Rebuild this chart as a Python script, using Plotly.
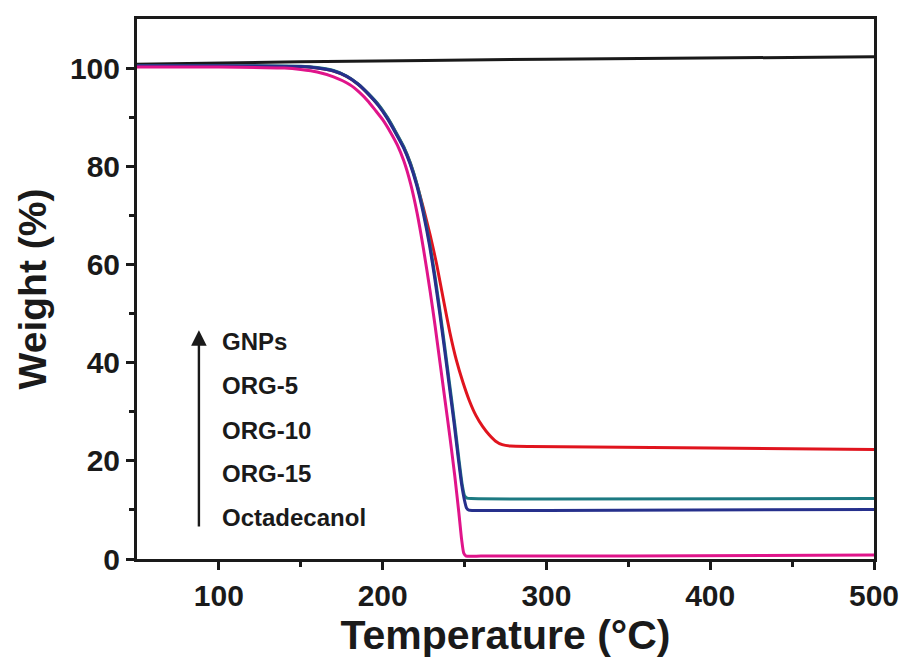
import plotly.graph_objects as go

# GNPs
gnps_T = [50, 150, 300, 500]
gnps_W = [100.8, 101.3, 101.8, 102.3]

# ORG-5 (red)
org5_T = [50, 100, 150, 160, 170, 178, 185, 191, 197.6, 203, 208, 213, 217, 221, 225, 229, 233, 237, 241, 245, 249, 253, 257, 261, 265, 269, 273, 278, 290, 400, 500]
org5_W = [100.4, 100.4, 100.3, 100.0, 99.4, 98.3, 96.7, 94.8, 92.4, 89.8, 86.9, 83.8, 80.5, 76.2, 71.3, 66.0, 60.0, 53.0, 46.2, 40.5, 36.0, 32.2, 29.2, 27.0, 25.3, 24.0, 23.3, 23.0, 22.9, 22.6, 22.3]

# ORG-10 (teal)
org10_T = [50, 100, 150, 160, 170, 178, 185, 191, 197.6, 203, 208, 213, 217, 221, 225, 229, 232, 235, 238, 241, 244, 246.5, 248.5, 250, 251.5, 254, 300, 500]
org10_W = [100.5, 100.5, 100.4, 100.1, 99.5, 98.4, 96.8, 94.9, 92.5, 89.9, 87.0, 83.9, 80.6, 76.3, 70.7, 63.8, 57.5, 50.5, 43.0, 35.3, 27.5, 20.5, 15.3, 12.9, 12.4, 12.3, 12.2, 12.3]

# ORG-15 (navy)
org15_T = [50, 100, 150, 160, 170, 178, 185, 191, 197.3, 202.7, 207.7, 212.7, 216.7, 220.7, 224.7, 228.7, 231.7, 234.7, 237.7, 240.7, 243.7, 246.2, 248.2, 249.8, 251.2, 252.6, 255, 300, 500]
org15_W = [100.5, 100.5, 100.3, 100.0, 99.4, 98.3, 96.7, 94.8, 92.4, 89.8, 86.9, 83.8, 80.5, 76.2, 70.6, 63.7, 57.4, 50.4, 42.9, 35.2, 27.4, 20.4, 15.2, 12.2, 10.4, 9.95, 9.9, 9.9, 10.1]

# Octadecanol (magenta)
octa_T = [50, 100, 140, 150, 160, 170, 180, 186, 191.5, 196, 200, 205, 209, 213, 217, 221, 225, 229, 232, 235, 238, 241, 244, 246.5, 248.2, 249.5, 251, 260, 350, 500]
octa_W = [100.2, 100.2, 100.0, 99.7, 99.2, 98.2, 96.6, 95.0, 93.1, 91.2, 89.5, 86.8, 84.3, 81.0, 76.5, 70.5, 63.0, 54.5, 47.5, 40.0, 32.5, 25.0, 17.0, 9.5, 4.0, 1.2, 0.6, 0.6, 0.6, 0.8]

labels = ["GNPs", "ORG-5", "ORG-10", "ORG-15", "Octadecanol"]
label_W = [44.4, 35.3, 26.2, 17.4, 8.5]

fig = go.Figure()
series = [
    ("GNPs", gnps_T, gnps_W, "#1a1a1a"),
    ("ORG-5", org5_T, org5_W, "#e0141e"),
    ("ORG-10", org10_T, org10_W, "#1c7a82"),
    ("ORG-15", org15_T, org15_W, "#26308c"),
    ("Octadecanol", octa_T, octa_W, "#e0148a"),
]
for name, t, w, c in series:
    fig.add_trace(go.Scatter(x=t, y=w, mode="lines", name=name,
                             line=dict(color=c, width=3, shape="spline", smoothing=0.5)))

font_family = "Liberation Sans, Arial, sans-serif"

for lab, w in zip(labels, label_W):
    fig.add_annotation(x=100.6, y=w, text="<b>%s</b>" % lab, showarrow=False,
                       xanchor="left", yanchor="middle",
                       font=dict(family=font_family, size=24, color="#1a1a1a"))

fig.add_annotation(x=87.8, y=46.6, ax=87.8, ay=6.3, axref="x", ayref="y",
                   xref="x", yref="y", text="", showarrow=True,
                   arrowhead=2, arrowsize=1.3, arrowwidth=2.4, arrowcolor="#1a1a1a")

axis_common = dict(
    showline=True, linecolor="#1a1a1a", linewidth=3, mirror=True,
    ticks="outside", ticklen=8, tickwidth=3, tickcolor="#1a1a1a",
    showgrid=False, zeroline=False,
    tickfont=dict(family=font_family, size=30, color="#1a1a1a"),
)

fig.update_xaxes(range=[50, 500], tickvals=[100, 200, 300, 400, 500],
                 ticktext=["<b>100</b>", "<b>200</b>", "<b>300</b>", "<b>400</b>", "<b>500</b>"],
                 minor=dict(tickvals=[150, 250, 350, 450], ticks="outside", ticklen=5,
                            tickwidth=3, tickcolor="#1a1a1a"),
                 title=dict(text="<b>Temperature (°C)</b>", standoff=4,
                            font=dict(family=font_family, size=41, color="#1a1a1a")),
                 **axis_common)
fig.update_yaxes(range=[0, 110], tickvals=[0, 20, 40, 60, 80, 100],
                 ticktext=["<b>0</b>", "<b>20</b>", "<b>40</b>", "<b>60</b>", "<b>80</b>", "<b>100</b>"],
                 minor=dict(tickvals=[10, 30, 50, 70, 90], ticks="outside", ticklen=5,
                            tickwidth=3, tickcolor="#1a1a1a"),
                 title=dict(text="<b>Weight (%)</b>", standoff=12,
                            font=dict(family=font_family, size=39, color="#1a1a1a")),
                 **axis_common)

fig.update_layout(width=908, height=664, margin=dict(l=129, r=42, t=8, b=113),
                  plot_bgcolor="white", paper_bgcolor="white", showlegend=False)

fig.write_html("out.html")
